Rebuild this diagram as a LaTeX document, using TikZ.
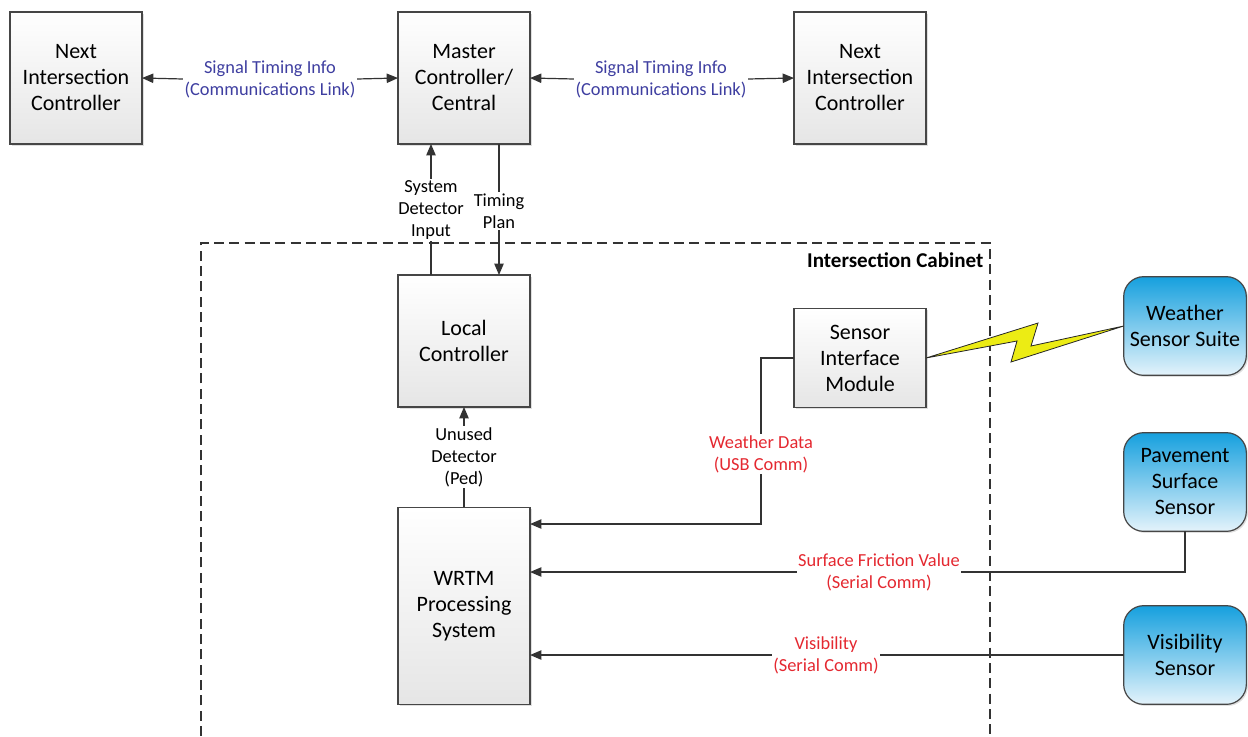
\documentclass[tikz,border=0pt]{standalone}
\usepackage{fontspec}
\setmainfont{Carlito}
\usetikzlibrary{arrows.meta, shadows, calc}
\usepackage{xcolor}

\definecolor{linkblue}{RGB}{62,62,160}
\definecolor{datared}{RGB}{228,40,48}
\definecolor{sensorblue}{RGB}{22,160,222}
\definecolor{sensorpale}{RGB}{228,243,251}
\definecolor{edgegray}{RGB}{70,70,70}
\definecolor{boltyellow}{RGB}{236,236,20}

\newcommand{\boxfont}{\fontsize{16.5}{19.5}\selectfont}
\newcommand{\lblfont}{\fontsize{13.8}{16.5}\selectfont}

\tikzset{
	unit/.style={draw=edgegray, line width=0.9pt, top color=white, bottom color=black!10,
		minimum width=99pt, minimum height=99pt, align=center, inner sep=2pt, outer sep=0pt,
		font=\boxfont, drop shadow={opacity=0.25, shadow xshift=1.2pt, shadow yshift=-1.2pt}},
	sensor/.style={unit, rounded corners=15pt, top color=sensorblue, bottom color=sensorpale,
		minimum width=92pt, minimum height=74pt},
	lbl/.style={align=center, inner sep=1pt, font=\lblfont},
	wire/.style={line width=0.9pt, draw=black!80},
	arr/.style={wire, -{Triangle[length=8.5pt, width=7pt]}},
}

\begin{document}
\begin{tikzpicture}[x=0.75pt, y=-0.75pt]
	\useasboundingbox (0,0) rectangle (1248,736);
	% controllers
	\node[unit] (next1) at (76,78) {Next\\Intersection\\Controller};
	\node[unit] (master) at (464,78) {Master\\Controller/\\Central};
	\node[unit] (next2) at (860,78) {Next\\Intersection\\Controller};
	% cabinet
	\draw[black!80, line width=0.8pt, dash pattern=on 7.5pt off 4pt] (201,736) -- (201,243) -- (990,243) -- (990,736);
	\node[font=\fontsize{15.8}{18}\selectfont\bfseries, anchor=east, inner sep=1pt] (cab) at (985,260) {Intersection Cabinet};
	\node[unit] (local) at (464,341) {Local\\Controller};
	\node[unit, minimum height=74pt] (sim) at (860,358) {Sensor\\Interface\\Module};
	\node[unit, minimum height=148pt] (wrtm) at (464,606) {WRTM\\Processing\\System};
	% field sensors
	\node[sensor] (wss) at (1185,326) {Weather\\Sensor Suite};
	\node[sensor] (pss) at (1185,482) {Pavement\\Surface\\Sensor};
	\node[sensor] (vis) at (1185,655) {Visibility\\Sensor};
	% labels
	\node[lbl, text=linkblue] (link1) at (270,79) {Signal Timing Info\\(Communications Link)};
	\node[lbl, text=linkblue] (link2) at (661,79) {Signal Timing Info\\(Communications Link)};
	\node[lbl] (sdi) at (431,210) {System\\Detector\\Input};
	\node[lbl] (tplan) at (499,211) {Timing\\Plan};
	\node[lbl] (unused) at (464,457) {Unused\\Detector\\(Ped)};
	\node[lbl, text=datared] (wdata) at (761,454) {Weather Data\\(USB Comm)};
	\node[lbl, text=datared] (sfv) at (879,572) {Surface Friction Value\\(Serial Comm)};
	\node[lbl, text=datared] (visl) at (826,655) {Visibility\\(Serial Comm)};
	\coordinate (wdin) at (530,524);
	% links
	\draw[arr] (link1.west) -- (next1.east);
	\draw[arr] (link1.east) -- (master.west);
	\draw[arr] (link2.west) -- (master.east);
	\draw[arr] (link2.east) -- (next2.west);
	\draw[arr] (sdi.north) -- (sdi.north |- master.south);
	\draw[wire] (sdi.south) -- (sdi.south |- local.north);
	\draw[wire] (tplan.north |- master.south) -- (tplan.north);
	\draw[arr] (tplan.south) -- (tplan.south |- local.north);
	\draw[arr] (unused.north) -- (local.south);
	\draw[wire] (unused.south) -- (wrtm.north);
	\draw[wire] (sim.west) -| (wdata.north);
	\draw[arr] (wdata.south) |- (wdin);
	\draw[wire] (pss.south) |- (sfv.east);
	\draw[arr] (sfv.west) -- (sfv.west -| wrtm.east);
	\draw[wire] (vis.west) -- (visl.east);
	\draw[arr] (visl.west) -- (visl.west -| wrtm.east);
	% wireless
	\draw[draw=black!85, line width=0.6pt, fill=boltyellow, line join=miter]
		(sim.east) -- (1038,323) -- (1031,346) -- (wss.west) -- (1011,362) -- (1017,341) -- cycle;
\end{tikzpicture}
\end{document}
